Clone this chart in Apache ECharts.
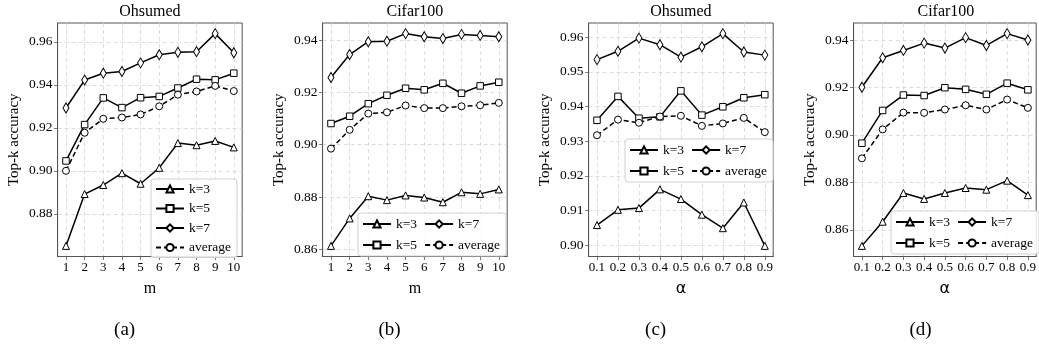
<!DOCTYPE html>
<html>
<head>
<meta charset="utf-8">
<script src="https://cdn.jsdelivr.net/npm/echarts@6/dist/echarts.min.js"></script>
<style>
  html, body { margin: 0; padding: 0; background: #fff; }
  #chart { width: 1039px; height: 352px; }
</style>
</head>
<body>
<div id="chart"></div>
<script>
// x values / tick labels
const mValues = [1, 2, 3, 4, 5, 6, 7, 8, 9, 10];
const alphaValues = [0.1, 0.2, 0.3, 0.4, 0.5, 0.6, 0.7, 0.8, 0.9];

const seriesNames = ['k=3', 'k=5', 'k=7', 'average'];

// (a) Ohsumed, varying m
const ohsumedM_k3 = [0.8651, 0.8892, 0.8934, 0.8989, 0.8940, 0.9014, 0.9129, 0.9119, 0.9139, 0.9109];
const ohsumedM_k5 = [0.9046, 0.9215, 0.9339, 0.9294, 0.9340, 0.9346, 0.9385, 0.9426, 0.9423, 0.9454];
const ohsumedM_k7 = [0.9292, 0.9422, 0.9454, 0.9462, 0.9502, 0.9540, 0.9551, 0.9554, 0.9638, 0.9549];
const ohsumedM_avg = [0.9000, 0.9177, 0.9242, 0.9248, 0.9262, 0.9300, 0.9354, 0.9369, 0.9395, 0.9371];

// (b) Cifar100, varying m
const cifarM_k3 = [0.8613, 0.8718, 0.8803, 0.8788, 0.8806, 0.8798, 0.8780, 0.8818, 0.8812, 0.8829];
const cifarM_k5 = [0.9081, 0.9109, 0.9157, 0.9189, 0.9216, 0.9210, 0.9235, 0.9197, 0.9225, 0.9239];
const cifarM_k7 = [0.9257, 0.9345, 0.9394, 0.9396, 0.9425, 0.9413, 0.9406, 0.9422, 0.9418, 0.9413];
const cifarM_avg = [0.8985, 0.9057, 0.9119, 0.9124, 0.9150, 0.9140, 0.9140, 0.9147, 0.9151, 0.9160];

// (c) Ohsumed, varying alpha
const ohsumedA_k3 = [0.9058, 0.9102, 0.9107, 0.9161, 0.9133, 0.9088, 0.9049, 0.9123, 0.8998];
const ohsumedA_k5 = [0.9360, 0.9429, 0.9366, 0.9370, 0.9445, 0.9375, 0.9399, 0.9425, 0.9434];
const ohsumedA_k7 = [0.9535, 0.9559, 0.9597, 0.9578, 0.9542, 0.9572, 0.9610, 0.9557, 0.9548];
const ohsumedA_avg = [0.9317, 0.9362, 0.9353, 0.9371, 0.9373, 0.9344, 0.9351, 0.9367, 0.9326];

// (d) Cifar100, varying alpha
const cifarA_k3 = [0.8532, 0.8634, 0.8755, 0.8730, 0.8755, 0.8776, 0.8769, 0.8807, 0.8746];
const cifarA_k5 = [0.8965, 0.9103, 0.9168, 0.9166, 0.9199, 0.9192, 0.9171, 0.9218, 0.9190];
const cifarA_k7 = [0.9201, 0.9325, 0.9356, 0.9387, 0.9366, 0.9410, 0.9377, 0.9427, 0.9400];
const cifarA_avg = [0.8901, 0.9023, 0.9094, 0.9093, 0.9107, 0.9125, 0.9107, 0.9149, 0.9114];

const yTicksA = [0.88, 0.90, 0.92, 0.94, 0.96];
const yTicksB = [0.86, 0.88, 0.90, 0.92, 0.94];
const yTicksC = [0.90, 0.91, 0.92, 0.93, 0.94, 0.95, 0.96];
const yTicksD = [0.86, 0.88, 0.90, 0.92, 0.94];

const SERIF = '"Liberation Serif", "Times New Roman", serif';
const FRAME = '#555';
const GRIDLINE = '#d4d4d4';

const panels = [
  { title: 'Ohsumed', caption: '(a)', xName: 'm', xs: mValues, xDigits: 0, yTicks: yTicksA,
    values: [ohsumedM_k3, ohsumedM_k5, ohsumedM_k7, ohsumedM_avg], left: 57.6,
    legend: { orient: 'vertical', left: 151, top: 179, itemGap: 5.5, padding: [3, 6, 3, 4], data: seriesNames } },
  { title: 'Cifar100', caption: '(b)', xName: 'm', xs: mValues, xDigits: 0, yTicks: yTicksB,
    values: [cifarM_k3, cifarM_k5, cifarM_k7, cifarM_avg], left: 322.6,
    legend: { orient: 'horizontal', left: 358, top: 213, data: ['k=3', 'k=7', 'k=5', 'average'] } },
  { title: 'Ohsumed', caption: '(c)', xName: 'α', xs: alphaValues, xDigits: 1, yTicks: yTicksC,
    values: [ohsumedA_k3, ohsumedA_k5, ohsumedA_k7, ohsumedA_avg], left: 588.6,
    legend: { orient: 'horizontal', left: 625, top: 139, data: ['k=3', 'k=7', 'k=5', 'average'] } },
  { title: 'Cifar100', caption: '(d)', xName: 'α', xs: alphaValues, xDigits: 1, yTicks: yTicksD,
    values: [cifarA_k3, cifarA_k5, cifarA_k7, cifarA_avg], left: 853.6,
    legend: { orient: 'horizontal', left: 891, top: 211, data: ['k=3', 'k=7', 'k=5', 'average'] } }
];

const GRID_TOP = 23;
const GRID_W = 184.6;
const GRID_H = 233.5;

const markers = [
  { symbol: 'triangle', size: 7, dash: 'solid' },
  { symbol: 'rect', size: 6.5, dash: 'solid' },
  { symbol: 'diamond', size: [6, 10], dash: 'solid' },
  { symbol: 'circle', size: 7, dash: [5, 3] }
];

const grid = [], xAxis = [], yAxis = [], series = [], legend = [], graphic = [];

panels.forEach((p, i) => {
  const all = [].concat(...p.values);
  const lo = Math.min(...all), hi = Math.max(...all);
  const ypad = (hi - lo) * 0.05;
  const xpad = (p.xs[p.xs.length - 1] - p.xs[0]) * 0.05;

  grid.push({
    left: p.left, top: GRID_TOP, width: GRID_W, height: GRID_H,
    show: true, borderColor: FRAME, borderWidth: 1, backgroundColor: '#fff'
  });

  xAxis.push({
    gridIndex: i, type: 'value',
    min: p.xs[0] - xpad, max: p.xs[p.xs.length - 1] + xpad, splitNumber: 10,
    name: p.xName, nameLocation: 'middle', nameGap: 24,
    nameTextStyle: {
      fontFamily: p.xName === 'α' ? '"DejaVu Sans", sans-serif' : SERIF,
      fontSize: 16, color: '#000'
    },
    axisLine: { show: true, onZero: false, lineStyle: { color: FRAME, width: 1 } },
    axisTick: { show: true, length: 3.5, customValues: p.xs, lineStyle: { color: FRAME, width: 0.8 } },
    axisLabel: {
      customValues: p.xs, margin: 5, fontFamily: SERIF, fontSize: 13, color: '#000',
      formatter: v => Number(v).toFixed(p.xDigits)
    },
    splitLine: { show: true, lineStyle: { color: GRIDLINE, type: [4, 3], width: 0.8 } }
  });

  yAxis.push({
    gridIndex: i, type: 'value',
    min: lo - ypad, max: hi + ypad,
    name: 'Top-k accuracy', nameLocation: 'middle', nameGap: 36,
    nameTextStyle: { fontFamily: SERIF, fontSize: 15, color: '#000' },
    axisLine: { show: true, onZero: false, lineStyle: { color: FRAME, width: 1 } },
    axisTick: { show: true, length: 3.5, customValues: p.yTicks, lineStyle: { color: FRAME, width: 0.8 } },
    axisLabel: {
      customValues: p.yTicks, margin: 5, fontFamily: SERIF, fontSize: 13.5, color: '#000',
      formatter: v => Number(v).toFixed(2)
    },
    splitLine: { show: true, lineStyle: { color: GRIDLINE, type: [4, 3], width: 0.8 } }
  });

  p.values.forEach((vals, k) => {
    const m = markers[k];
    series.push({
      type: 'line', name: seriesNames[k], xAxisIndex: i, yAxisIndex: i,
      data: p.xs.map((x, j) => [x, vals[j]]),
      symbol: m.symbol, symbolSize: m.size, showAllSymbol: true,
      itemStyle: { color: '#fff', borderColor: '#000', borderWidth: 1 },
      lineStyle: { color: '#000', width: 1.5, type: m.dash },
      emphasis: { disabled: true },
      z: 3 + k
    });
  });

  legend.push(Object.assign({
    itemWidth: 28, itemHeight: 9, itemGap: 7,
    width: 140,
    padding: [4, 6, 4, 4],
    backgroundColor: 'rgba(255,255,255,0.85)',
    borderColor: '#d0d0d0', borderWidth: 1, borderRadius: 3,
    selectedMode: false,
    textStyle: { fontFamily: SERIF, fontSize: 13.5, color: '#000' },
    z: 10
  }, p.legend));

  const cx = p.left + GRID_W / 2;
  graphic.push({
    type: 'text', x: cx, y: 12,
    style: { text: p.title, align: 'center', verticalAlign: 'middle',
             font: '16px "Liberation Serif"', fill: '#000' }
  });
  graphic.push({
    type: 'text', x: p.left + 67, y: 330,
    style: { text: p.caption, align: 'center', verticalAlign: 'middle',
             font: '19px "Liberation Serif"', fill: '#000' }
  });
});

const chart = echarts.init(document.getElementById('chart'), null, { renderer: 'canvas' });
chart.setOption({
  animation: false,
  backgroundColor: '#fff',
  grid, xAxis, yAxis, series, legend, graphic
});
</script>
</body>
</html>
